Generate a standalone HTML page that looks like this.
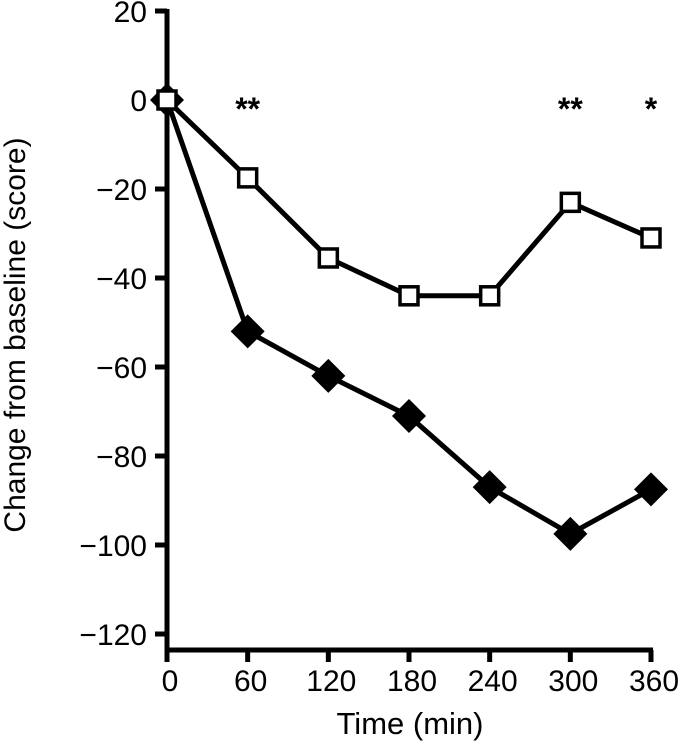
<!DOCTYPE html>
<html><head><meta charset="utf-8"><style>
html,body{margin:0;padding:0;background:#fff;}
svg text{font-family:"Liberation Sans",Arial,sans-serif;fill:#000;}
</style></head><body>
<svg id="chart" width="682" height="750" viewBox="0 0 682 750" xmlns="http://www.w3.org/2000/svg">
<g id="axes"></g><g id="series"></g>
<text transform="translate(25,335) rotate(-90)" text-anchor="middle" font-size="30">Change from baseline (score)</text>
<text x="410" y="734" text-anchor="middle" font-size="31">Time (min)</text>
</svg>
<script>
const times=[0,60,120,180,240,300,360];
const openSeries=[0,-17.5,-35.5,-44,-44,-23,-31];
const filledSeries=[0,-52,-62,-71,-87,-97.5,-87.5];
const yTicks=[20,0,-20,-40,-60,-80,-100,-120];
const xTicks=[0,60,120,180,240,300,360];
const sigTimes=[60,300,360];
const sigLabels=["**","**","*"];
const X=v=>167+v*(651-167)/360;
const Y=v=>100-v*4.45;
const NS="http://www.w3.org/2000/svg";
const axes=document.getElementById('axes'),ser=document.getElementById('series');
function mk(tag,attrs,parent){const e=document.createElementNS(NS,tag);for(const k in attrs)e.setAttribute(k,attrs[k]);parent.appendChild(e);return e;}
let l=mk('line',{x1:X(0),x2:X(0),y1:Y(20)-2,y2:650,stroke:'#000','stroke-width':5},axes);


l=mk('line',{x1:X(0)-2,x2:X(360)+2,y1:650,y2:650,stroke:'#000','stroke-width':5},axes);


yTicks.forEach(v=>{
 const t=mk('line',{x1:X(0)-12,x2:X(0),y1:Y(v),y2:Y(v),stroke:'#000','stroke-width':5},axes);
 
 
 const tx=mk('text',{x:X(0)-20,y:Y(v)+11,'text-anchor':'end','font-size':30},axes);
 tx.textContent=(v<0?'\u2212'+(-v):String(v));
 
 
});
xTicks.forEach(v=>{
 const t=mk('line',{x1:X(v),x2:X(v),y1:650,y2:662,stroke:'#000','stroke-width':5},axes);
 
 
 const tx=mk('text',{x:X(v)+3,y:691,'text-anchor':'middle','font-size':30},axes);
 tx.textContent=String(v);
 
 
});
sigTimes.forEach((t,i)=>{
 const tx=mk('text',{x:X(t),y:120,'text-anchor':'middle','font-size':32,'font-weight':'bold'},ser);
 tx.textContent=sigLabels[i];
 
 
});
const pts=s=>s.map((v,i)=>X(times[i])+','+Y(v)).join(' ');
l=mk('polyline',{points:pts(filledSeries),fill:'none',stroke:'#000','stroke-width':5},ser);


l=mk('polyline',{points:pts(openSeries),fill:'none',stroke:'#000','stroke-width':5},ser);


filledSeries.forEach((v,i)=>{
 const cx=X(times[i]),cy=Y(v),r=17;
 const d=mk('polygon',{points:`${cx},${cy-r} ${cx+r},${cy} ${cx},${cy+r} ${cx-r},${cy}`,fill:'#000'},ser);
 
 
});
openSeries.forEach((v,i)=>{
 const cx=X(times[i]),cy=Y(v);
 const r=mk('rect',{x:cx-9,y:cy-9,width:18,height:18,fill:'#fff',stroke:'#000','stroke-width':3.5},ser);
 
 
});
</script>
</body></html>
